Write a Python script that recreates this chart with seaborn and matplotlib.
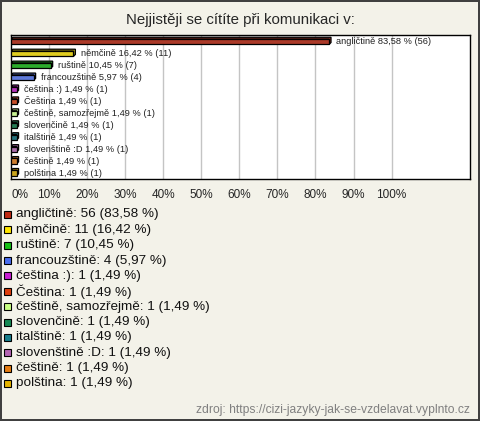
import matplotlib
matplotlib.use("Agg")
import matplotlib.pyplot as plt
import seaborn as sns
import pandas as pd
from matplotlib.patches import Rectangle, Polygon
import matplotlib.colors as mcolors

# data
jazyky = ["angličtině", "němčině", "ruštině", "francouzštině", "čeština :)", "Čeština",
          "češtině, samozřejmě", "slovenčině", "italštině", "slovenštině :D", "češtině", "polština"]
pocty = [56, 11, 7, 4, 1, 1, 1, 1, 1, 1, 1, 1]
procenta = [83.58, 16.42, 10.45, 5.97, 1.49, 1.49, 1.49, 1.49, 1.49, 1.49, 1.49, 1.49]
barvy = ["#c02a14", "#ffe600", "#17c017", "#4a6ef0", "#c81ed2", "#e0400f",
         "#c8ff82", "#168a55", "#177e8c", "#b464b4", "#e67d14", "#e6b400"]
tick_hodnoty = [0, 10, 20, 30, 40, 50, 60, 70, 80, 90, 100]
titulek = "Nejjistěji se cítíte při komunikaci v:"
zdroj = "zdroj: https://cizi-jazyky-jak-se-vzdelavat.vyplnto.cz"

df = pd.DataFrame({"jazyk": jazyky, "pocet": pocty, "procento": procenta})

def cz(x):
    return f"{x:.2f}".replace(".", ",")

sns.set_style("white")
plt.rcParams['font.family'] = ['Liberation Sans', 'DejaVu Sans']

W, H = 480, 421
bg = "#f3f2e9"
fig = plt.figure(figsize=(4.8, 4.21), dpi=100, facecolor=bg)
fig.patch.set_edgecolor("#404040")
fig.patch.set_linewidth(1.5)

ax = fig.add_axes([11 / W, 1 - 179 / H, 459 / W, 144 / H])
ax.set_facecolor("white")

sns.barplot(data=df, x="procento", y="jazyk", hue="jazyk", palette=barvy, orient="h",
            width=0.44, edgecolor="black", linewidth=0.9, legend=False, ax=ax, zorder=3)

ax.set_xlim(0, 120.6)
ax.set_ylim(11.5, -0.57)

# pseudo 3D: slightly darker face behind each bar, shifted up-right
dx, dy = 0.5, -0.16
for patch in list(ax.patches):
    x0, y0 = patch.get_x(), patch.get_y()
    w, h = patch.get_width(), patch.get_height()
    fc = mcolors.to_rgb(patch.get_facecolor())
    dark = tuple(c * 0.82 for c in fc)
    pts = [(x0, y0), (x0 + dx, y0 + dy), (x0 + w + dx, y0 + dy),
           (x0 + w + dx, y0 + h + dy), (x0 + w, y0 + h), (x0 + w, y0)]
    ax.add_patch(Polygon(pts, closed=True, facecolor=dark, edgecolor="black",
                         linewidth=0.9, zorder=2))

for i, (j, p, n) in enumerate(zip(jazyky, procenta, pocty)):
    ax.text(p + 1.9, i, f"{j} {cz(p)} % ({n})", va="center", ha="left",
            fontsize=6.7, color="#222222", zorder=4)

ax.set_xticks(tick_hodnoty)
ax.set_xticklabels([f"{t}%" for t in tick_hodnoty], fontsize=8.5)
ax.get_xticklabels()[0].set_horizontalalignment("left")
ax.set_yticks([])
ax.set_xlabel("")
ax.set_ylabel("")
ax.tick_params(axis="x", length=0, pad=7)
for t in tick_hodnoty[1:]:
    ax.axvline(t, color="#c4c4c4", linewidth=1, zorder=0)
for s in ax.spines.values():
    s.set_visible(True)
    s.set_color("black")
    s.set_linewidth(1)

fig.text(0.5, 1 - 20 / H, titulek, ha="center", va="center", fontsize=10.8)

# legend rows
for i, (j, n, p, c) in enumerate(zip(jazyky, pocty, procenta, barvy)):
    yc = 214.5 + i * 15.36
    fig.add_artist(Rectangle((4 / W, 1 - (yc + 3.5) / H), 7 / W, 7 / H,
                             transform=fig.transFigure, facecolor=c,
                             edgecolor="black", linewidth=0.8))
    fig.text(15.5 / W, 1 - yc / H, f"{j}: {n} ({cz(p)} %)", ha="left", va="center",
             fontsize=9.7, color="#111111")

fig.text(1 - 10 / W, 1 - 410 / H, zdroj, ha="right", va="center",
         fontsize=8.7, color="#808080")

fig.savefig("out.png", dpi=100, facecolor=bg, edgecolor=fig.patch.get_edgecolor())
